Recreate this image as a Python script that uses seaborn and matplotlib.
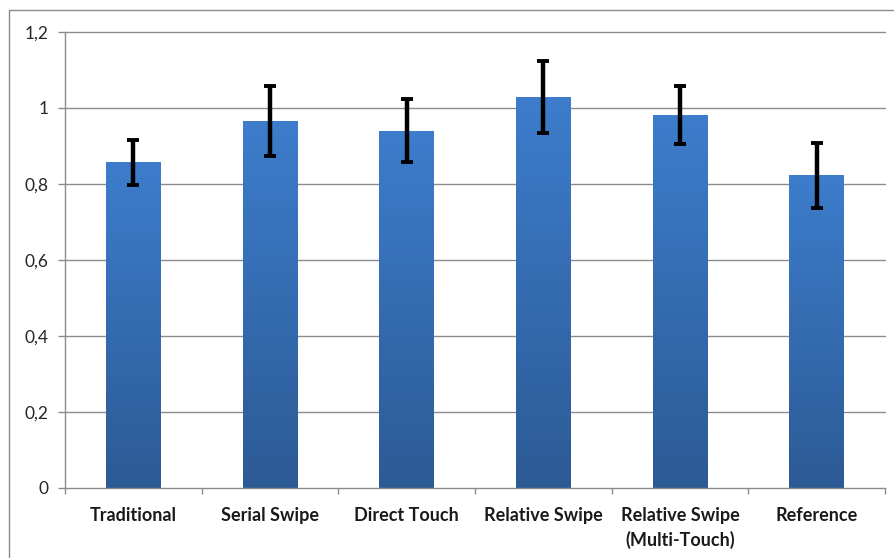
import numpy as np
import pandas as pd
import matplotlib
matplotlib.use("Agg")
import matplotlib.pyplot as plt
import seaborn as sns
from matplotlib.colors import LinearSegmentedColormap
from matplotlib.lines import Line2D

# Mean scores per input technique with their error margins
techniques = ["Traditional", "Serial Swipe", "Direct Touch", "Relative Swipe",
              "Relative Swipe\n(Multi-Touch)", "Reference"]
means = [0.857, 0.967, 0.940, 1.028, 0.982, 0.823]
errors = [0.060, 0.092, 0.083, 0.095, 0.077, 0.086]
y_ticks = [0, 0.2, 0.4, 0.6, 0.8, 1.0, 1.2]
y_tick_labels = ["0", "0,2", "0,4", "0,6", "0,8", "1", "1,2"]

df = pd.DataFrame({"technique": techniques, "mean": means, "err": errors})

sns.set_theme(style="white")
plt.rcParams["font.family"] = ["Lato", "DejaVu Sans"]

fig = plt.figure(figsize=(8.95, 5.58), dpi=100)
ax = fig.add_axes([65 / 895, 70 / 558, 820 / 895, 456 / 558])

sns.barplot(data=df, x="technique", y="mean", width=0.4, color="#3a76c2",
            errorbar=None, ax=ax, zorder=2)

# Vertical blue gradient inside each bar
grad_cmap = LinearSegmentedColormap.from_list("bar_grad", ["#2c5a95", "#3d7dcc"])
grad = np.linspace(0, 1, 256).reshape(-1, 1)
for patch in ax.patches:
    x0, y0 = patch.get_x(), patch.get_y()
    w, h = patch.get_width(), patch.get_height()
    im = ax.imshow(grad, cmap=grad_cmap, origin="lower", aspect="auto",
                   extent=(x0, x0 + w, y0, y0 + h), zorder=2)
    im.set_clip_path(patch)
    patch.set_facecolor("none")
    patch.set_edgecolor("none")

ax.errorbar(np.arange(len(techniques)), df["mean"], yerr=df["err"], fmt="none",
            ecolor="black", elinewidth=3.2, capsize=4.5, capthick=2.8, zorder=3)

ax.set_xlim(-0.5, len(techniques) - 0.5)
ax.set_ylim(0, 1.2)
ax.set_yticks(y_ticks)
ax.set_yticklabels(y_tick_labels)
ax.set_xlabel("")
ax.set_ylabel("")

grid_c = "#8c8c8c"
for yv in y_ticks[1:]:
    ax.axhline(yv, color=grid_c, lw=1.0, zorder=1, clip_on=False)

for side in ["top", "right"]:
    ax.spines[side].set_visible(False)
ax.spines["left"].set_color(grid_c)
ax.spines["bottom"].set_color(grid_c)
ax.spines["left"].set_linewidth(1.0)
ax.spines["bottom"].set_linewidth(1.0)

ax.tick_params(axis="y", which="major", length=5, width=1.0, color=grid_c,
               pad=7, labelsize=12.5, labelcolor="#262626", left=True)
ax.tick_params(axis="x", which="major", length=0, pad=13.5, labelsize=13,
               labelcolor="#1a1a1a")
ax.set_xticks(np.arange(-0.5, len(techniques)), minor=True)
ax.tick_params(axis="x", which="minor", length=4, width=1.0, color=grid_c,
               bottom=True)
for lbl in ax.get_xticklabels():
    lbl.set_fontweight("bold")
    lbl.set_linespacing(1.5)

# Chart-area frame along the top and left edges
frame_c = "#8c8c8c"
fig.add_artist(Line2D([9 / 895, 1], [1 - 10 / 558, 1 - 10 / 558],
                      transform=fig.transFigure, color=frame_c, lw=1.0))
fig.add_artist(Line2D([9 / 895, 9 / 895], [0, 1 - 10 / 558],
                      transform=fig.transFigure, color=frame_c, lw=1.0))

fig.savefig("out.png", dpi=100)
